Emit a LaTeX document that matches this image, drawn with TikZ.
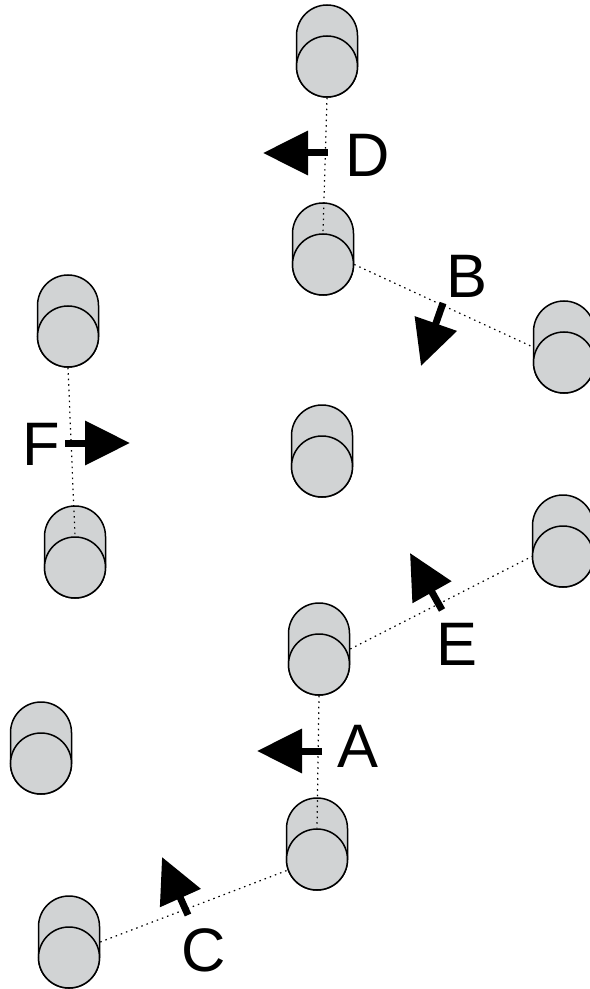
\documentclass[tikz,border=0pt]{standalone}
\usepackage{fontspec}
\setmainfont{Liberation Sans}
\usetikzlibrary{arrows.meta,calc,positioning}
\definecolor{cylgray}{RGB}{209,211,212}

\begin{document}
\begin{tikzpicture}[x=0.5pt,y=-0.5pt]
    \tikzstyle{every path}=[line width=0.75pt]
    \tikzstyle{cyl}=[draw,fill=cylgray,minimum width=30.5pt,minimum height=46pt,rounded corners=15.25pt,inner sep=0pt]
    \tikzstyle{cylface}=[draw,fill=cylgray,circle,minimum size=30.5pt,inner sep=0pt]
    \tikzstyle{link}=[dotted,line width=0.6pt]
    \tikzstyle{push}=[line width=3.5pt,-{Triangle[length=22.5pt,width=21.5pt]}]
    \tikzstyle{lbl}=[font=\fontsize{30.7}{36}\selectfont,inner sep=0pt]

    \useasboundingbox (0,0) rectangle (589,989);

    %% cylinders: body, then front face
    \node [cyl] (c1) at (327,51) {};
    \node [cylface] (c1f) at ([yshift=-7.75pt]c1.center) {};
    \node [cyl] (c2) at (323,249) {};
    \node [cylface] (c2f) at ([yshift=-7.75pt]c2.center) {};
    \node [cyl] (c3) at (564,347) {};
    \node [cylface] (c3f) at ([yshift=-7.75pt]c3.center) {};
    \node [cyl] (c4) at (68,321) {};
    \node [cylface] (c4f) at ([yshift=-7.75pt]c4.center) {};
    \node [cyl] (c5) at (75,552) {};
    \node [cylface] (c5f) at ([yshift=-7.75pt]c5.center) {};
    \node [cyl] (c6) at (322,451) {};
    \node [cylface] (c6f) at ([yshift=-7.75pt]c6.center) {};
    \node [cyl] (c7) at (563,541) {};
    \node [cylface] (c7f) at ([yshift=-7.75pt]c7.center) {};
    \node [cyl] (c8) at (319,649) {};
    \node [cylface] (c8f) at ([yshift=-7.75pt]c8.center) {};
    \node [cyl] (c9) at (317,844) {};
    \node [cylface] (c9f) at ([yshift=-7.75pt]c9.center) {};
    \node [cyl] (c10) at (41,748) {};
    \node [cylface] (c10f) at ([yshift=-7.75pt]c10.center) {};
    \node [cyl] (c11) at (69,942) {};
    \node [cylface] (c11f) at ([yshift=-7.75pt]c11.center) {};

    %% dotted links
    \draw [link] (c1.south) -- (c2f.north);
    \draw [link] (c2f.east) -- (c3.west);
    \draw [link] (c4.south) -- (c5f.north);
    \draw [link] (c8.east) -- (c7f.west);
    \draw [link] (c8.south) -- (c9f.north);
    \draw [link] (c11.east) -- (c9f.200);

    %% push arrows
    \coordinate (pA0) at (322,751);  \coordinate (pA1) at (257,751);
    \coordinate (pB0) at (443,303);  \coordinate (pB1) at (421,366);
    \coordinate (pC0) at (188,915);  \coordinate (pC1) at (162,857);
    \coordinate (pD0) at (328,153);  \coordinate (pD1) at (263,153);
    \coordinate (pE0) at (442,610);  \coordinate (pE1) at (410,553);
    \coordinate (pF0) at (65,443);   \coordinate (pF1) at (130,443);
    \draw [push] (pA0) -- (pA1);
    \draw [push] (pB0) -- (pB1);
    \draw [push] (pC0) -- (pC1);
    \draw [push] (pD0) -- (pD1);
    \draw [push] (pE0) -- (pE1);
    \draw [push] (pF0) -- (pF1);

    %% labels
    \node [lbl] (lA) at (358,746) {A};
    \node [lbl] (lB) at (467,276) {B};
    \node [lbl] (lC) at (204,950) {C};
    \node [lbl] (lD) at (368,155) {D};
    \node [lbl] (lE) at (457,644) {E};
    \node [lbl] (lF) at (41,444) {F};
\end{tikzpicture}
\end{document}
